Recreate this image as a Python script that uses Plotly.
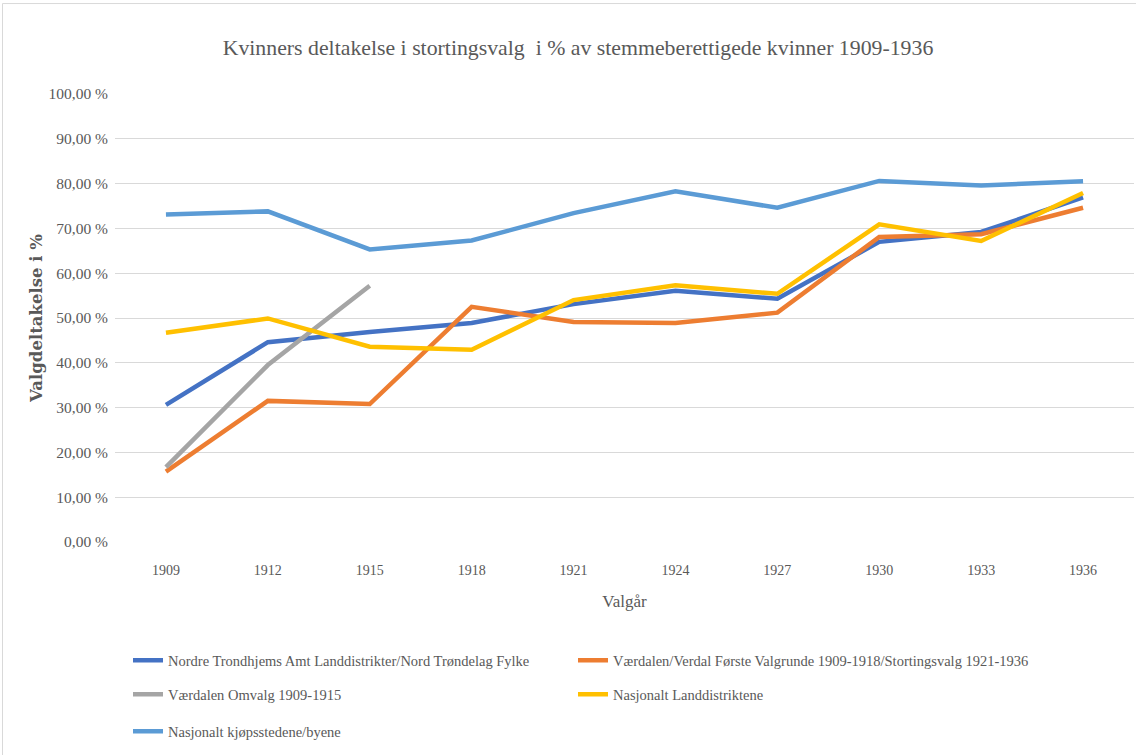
import plotly.graph_objects as go

years = ["1909", "1912", "1915", "1918", "1921", "1924", "1927", "1930", "1933", "1936"]

series_names = [
    "Nordre Trondhjems Amt Landdistrikter/Nord Trøndelag Fylke",
    "Værdalen/Verdal Første Valgrunde 1909-1918/Stortingsvalg 1921-1936",
    "Værdalen Omvalg 1909-1915",
    "Nasjonalt Landdistriktene",
    "Nasjonalt kjøpsstedene/byene",
]

nordre = [30.6, 44.6, 46.9, 48.9, 53.1, 56.1, 54.3, 67.0, 69.2, 76.9]
verdal = [15.7, 31.5, 30.8, 52.5, 49.1, 48.9, 51.2, 68.1, 68.7, 74.6]
omvalg = [16.7, 39.5, 57.2, None, None, None, None, None, None, None]
landdistr = [46.7, 49.9, 43.6, 42.9, 54.0, 57.3, 55.4, 70.9, 67.2, 77.9]
byene = [73.1, 73.8, 65.3, 67.3, 73.4, 78.3, 74.6, 80.6, 79.6, 80.5]

y_ticks = [0, 10, 20, 30, 40, 50, 60, 70, 80, 90, 100]
y_tick_labels = ["0,00 %", "10,00 %", "20,00 %", "30,00 %", "40,00 %", "50,00 %",
                 "60,00 %", "70,00 %", "80,00 %", "90,00 %", "100,00 %"]

colors = ["#4472C4", "#ED7D31", "#A5A5A5", "#FFC000", "#5B9BD5"]
legend_ids = ["legend", "legend2", "legend3", "legend4", "legend5"]
data = [nordre, verdal, omvalg, landdistr, byene]

FONT = "Liberation Serif, Times New Roman, serif"
GRAY = "#595959"

fig = go.Figure()
for name, vals, col, lg in zip(series_names, data, colors, legend_ids):
    fig.add_trace(go.Scatter(
        x=years, y=vals, mode="lines", name=name,
        line=dict(color=col, width=4.5),
        legend=lg, connectgaps=False,
    ))

W, H = 1136, 755
L, R, T, B = 115, 2, 93.5, 213.3
ph = H - T - B
pw = W - L - R

def py(pix):
    return (H - B - pix) / ph

def px(pix):
    return (pix - L) / pw

leg_common = dict(
    orientation="h", xanchor="left", yanchor="middle",
    font=dict(family=FONT, size=14.5, color=GRAY),
    bgcolor="rgba(0,0,0,0)", itemwidth=30,
)

fig.update_layout(
    width=W, height=H,
    margin=dict(l=L, r=R, t=T, b=B),
    paper_bgcolor="white", plot_bgcolor="white",
    font=dict(family=FONT, color=GRAY),
    title=dict(
        text="Kvinners deltakelse i stortingsvalg  i % av stemmeberettigede kvinner 1909-1936",
        font=dict(family=FONT, size=21.8, color=GRAY),
        x=578 / W, xref="container", xanchor="center",
        y=1 - 47 / H, yref="container", yanchor="middle",
    ),
    xaxis=dict(
        type="category", range=[-0.5, 9.5],
        showgrid=False, showline=False, ticks="",
        tickfont=dict(family=FONT, size=14, color=GRAY),
        ticklabelstandoff=18,
        title=dict(text="Valgår", font=dict(family=FONT, size=17, color=GRAY), standoff=18),
    ),
    yaxis=dict(
        range=[0, 100], tickvals=y_ticks, ticktext=y_tick_labels,
        showgrid=True, gridcolor="#D9D9D9", gridwidth=1,
        zeroline=False, showline=False, ticks="",
        tickfont=dict(family=FONT, size=15.5, color=GRAY),
        ticklabelstandoff=6,
        title=dict(text="<b>Valgdeltakelse i %</b>",
                   font=dict(family="DejaVu Serif, serif", size=16.5, color=GRAY), standoff=1),
    ),
    legend=dict(x=px(128), y=py(660), **leg_common),
    legend2=dict(x=px(573), y=py(660), **leg_common),
    legend3=dict(x=px(128), y=py(694), **leg_common),
    legend4=dict(x=px(573), y=py(694), **leg_common),
    legend5=dict(x=px(128), y=py(731), **leg_common),
    showlegend=True,
)

# chart border
fig.add_shape(type="rect", xref="paper", yref="paper",
              x0=px(2.5), x1=px(W + 5), y0=py(H + 5), y1=py(3),
              line=dict(color="#D9D9D9", width=1), fillcolor="rgba(0,0,0,0)", layer="below")

fig.write_html("out.html", config={"displayModeBar": False},
               post_script="document.body.style.margin='0';document.body.style.overflow='hidden';")
